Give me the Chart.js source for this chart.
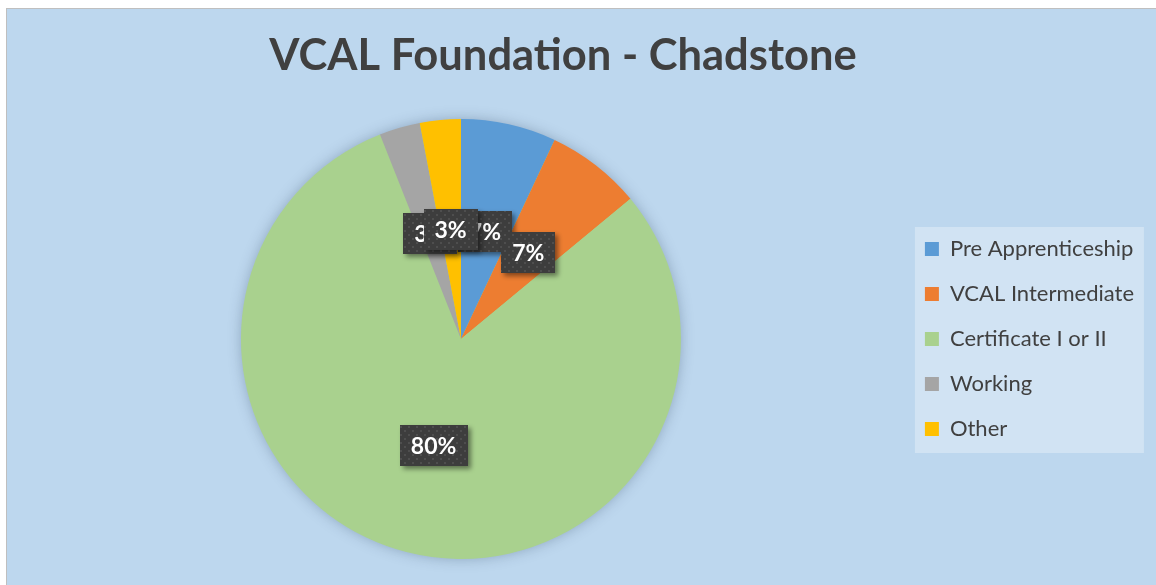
<!DOCTYPE html>
<html>
<head>
<meta charset="utf-8">
<script src="https://cdn.jsdelivr.net/npm/chart.js@4/dist/chart.umd.min.js"></script>
<style>
  body { margin: 0; background: #fff; overflow: hidden; }
  #box {
    position: absolute; left: 6px; top: 8px; width: 1150px; height: 577px;
    border-left: 1px solid #BFBFBF; border-top: 1px solid #BFBFBF;
    background: #BDD7EE;
  }
  canvas { display: block; }
</style>
</head>
<body>
<div id="box"><canvas id="pie_chadstone" width="1149" height="576"></canvas></div>
<script>
var titulo = 'VCAL Foundation - Chadstone';
var categorias = ["Pre Apprenticeship", "VCAL Intermediate", "Certificate I or II", "Working", "Other"];
var percentuais = [7, 7, 80, 3, 3];
var cores = ['#5B9BD5', '#ED7D31', '#A9D18E', '#A5A5A5', '#FFC000'];

// textura pontilhada das caixas de rotulo
var pat = document.createElement('canvas');
pat.width = 8; pat.height = 8;
var pctx = pat.getContext('2d');
pctx.fillStyle = '#3D3D3D';
pctx.fillRect(0, 0, 8, 8);
pctx.fillStyle = '#4E4E4E';
pctx.fillRect(1, 1, 2, 2);
pctx.fillRect(5, 5, 2, 2);

var fundo = {
    id: 'fundo',
    beforeDraw: function(chart) {
        var c = chart.ctx;
        var lg = chart.legend;
        var cy = (lg.top + lg.bottom) / 2;
        c.save();
        // caixa da legenda
        c.fillStyle = 'rgba(255,255,255,0.3)';
        c.fillRect(lg.left + 13, cy - 112, 229, 226);
        // titulo (centrado na area do grafico do Excel, nao do canvas)
        c.fillStyle = '#404040';
        c.font = 'bold 43.5px Lato';
        c.textAlign = 'center';
        c.textBaseline = 'alphabetic';
        c.fillText(titulo, 556, 61);
        c.restore();
    },
    beforeDatasetsDraw: function(chart) {
        var arc = chart.getDatasetMeta(0).data[0];
        var c = chart.ctx;
        c.save();
        c.shadowColor = 'rgba(40,60,90,0.35)';
        c.shadowBlur = 14;
        c.fillStyle = '#A9D18E';
        c.beginPath();
        c.arc(arc.x, arc.y, arc.outerRadius - 1, 0, Math.PI * 2);
        c.fill();
        c.restore();
    }
};

var rotulos = {
    id: 'rotulos',
    afterDatasetsDraw: function(chart) {
        var c = chart.ctx;
        var meta = chart.getDatasetMeta(0);
        c.save();
        c.font = 'bold 23px Lato';
        c.textAlign = 'center';
        c.textBaseline = 'middle';
        meta.data.forEach(function(arc, i) {
            var p = arc.tooltipPosition();
            var txt = percentuais[i] + '%';
            var w = c.measureText(txt).width + 22;
            var h = 41;
            c.save();
            c.shadowColor = 'rgba(0,0,0,0.45)';
            c.shadowBlur = 5;
            c.shadowOffsetX = 3;
            c.shadowOffsetY = 3;
            c.fillStyle = c.createPattern(pat, 'repeat');
            c.fillRect(Math.round(p.x - w / 2), Math.round(p.y - h / 2), Math.round(w), h);
            c.restore();
            c.fillStyle = '#FFFFFF';
            c.fillText(txt, p.x, p.y + 1);
        });
        c.restore();
    }
};

var ctx = document.getElementById('pie_chadstone').getContext('2d');
var grafico = new Chart(ctx, {
    type: 'pie',
    data: {
        labels: categorias,
        datasets: [{
            data: percentuais,
            backgroundColor: cores,
            borderWidth: 0,
            hoverOffset: 0
        }]
    },
    plugins: [fundo, rotulos],
    options: {
        responsive: false,
        animation: false,
        devicePixelRatio: 1,
        layout: {
            padding: { left: 13, right: 12, top: 110, bottom: 26 }
        },
        plugins: {
            title: { display: false },
            legend: {
                position: 'right',
                labels: {
                    boxWidth: 14,
                    boxHeight: 14,
                    padding: 23,
                    color: '#404040',
                    font: { family: 'Lato', size: 22 }
                }
            },
            tooltip: { enabled: false }
        }
    }
});
</script>
</body>
</html>
